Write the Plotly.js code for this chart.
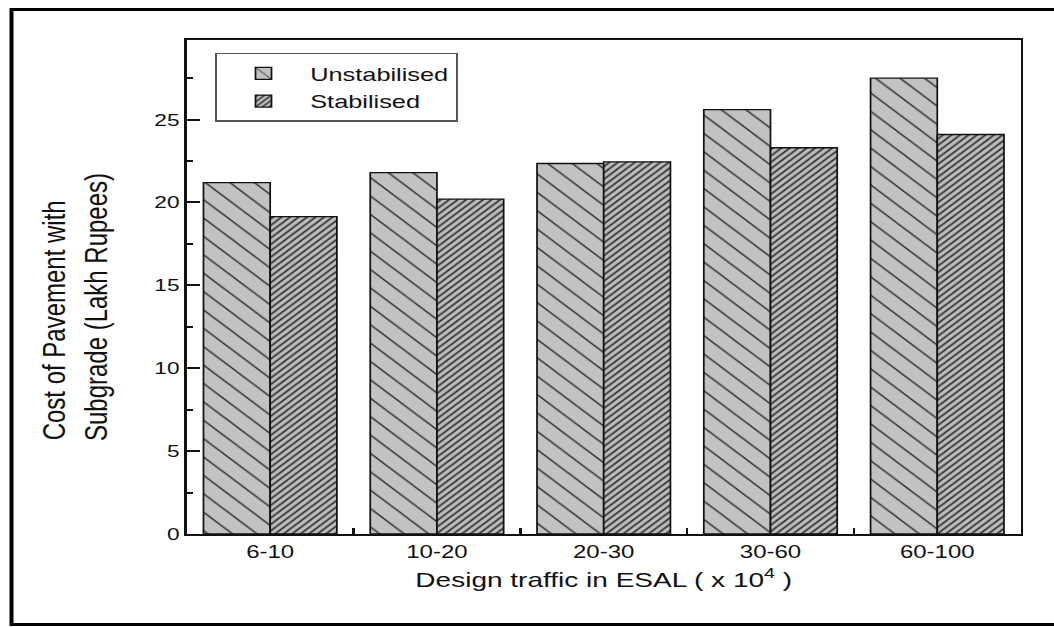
<!DOCTYPE html>
<html>
<head>
<meta charset="utf-8">
<script src="https://cdn.plot.ly/plotly-3.0.1.min.js"></script>
<style>
  html, body { margin: 0; padding: 0; background: #fff; overflow: hidden; }
  #wrap { width: 1054px; height: 627px; overflow: hidden; }
  #chart { width: 790px; height: 627px; transform: scaleX(1.3342); transform-origin: 0 0; }
</style>
</head>
<body>
<div id="wrap"><div id="chart"></div></div>
<script>
// ---- data ----
const categories = ['6-10', '10-20', '20-30', '30-60', '60-100'];
const unstabilised = [21.2, 21.8, 22.35, 25.6, 27.5];
const stabilised = [19.15, 20.2, 22.45, 23.3, 24.1];
const seriesNames = ['Unstabilised', 'Stabilised'];
const yTicks = [0, 5, 10, 15, 20, 25];

const FONT = 'Liberation Sans, Arial, Helvetica, sans-serif';
const NB = '\u00a0';
const ZW = '\u200b';

const traces = [
  {
    type: 'bar', name: seriesNames[0], x: categories, y: unstabilised,
    marker: {
      color: '#c2c2c2',
      line: { color: '#111', width: 1.3 },
      pattern: { shape: '\\', bgcolor: '#c2c2c2', fgcolor: '#333', size: 13, solidity: 0.1, fillmode: 'replace' }
    }
  },
  {
    type: 'bar', name: seriesNames[1], x: categories, y: stabilised,
    marker: {
      color: '#bdbdbd',
      line: { color: '#111', width: 1.3 },
      pattern: { shape: '/', bgcolor: '#bdbdbd', fgcolor: '#3a3a3a', size: 4.5, solidity: 0.38, fillmode: 'replace' }
    }
  }
];

const layout = {
  width: 790, height: 627,
  margin: { l: 140, r: 25, t: 40, b: 93, autoexpand: false },
  paper_bgcolor: '#fff', plot_bgcolor: '#fff',
  font: { family: FONT, color: '#111' },
  barmode: 'group', bargap: 0.2, bargroupgap: 0,
  showlegend: true,
  legend: {
    x: 0.0336, y: 0.9737, xanchor: 'left', yanchor: 'top',
    bgcolor: '#fff', bordercolor: '#555', borderwidth: 1.5,
    font: { family: FONT, size: 19, color: '#111' },
    itemwidth: 60, traceorder: 'normal'
  },
  xaxis: {
    type: 'category',
    range: [-0.5, 4.5],
    showline: true, linecolor: '#111', linewidth: 2, mirror: true,
    ticks: 'inside', tickson: 'boundaries', ticklen: 6, tickwidth: 2, tickcolor: '#111',
    showgrid: false, zeroline: false,
    tickfont: { family: FONT, size: 18, color: '#111' },
    title: { text: 'Design traffic in ESAL ( x 10<sup>4</sup> )', font: { family: FONT, size: 21, color: '#111' }, standoff: 12 }
  },
  yaxis: {
    range: [0, 29.8],
    tickvals: yTicks, ticktext: yTicks.map(String),
    showline: true, linecolor: '#111', linewidth: 2, mirror: true,
    ticks: 'inside', ticklen: 10, tickwidth: 2, tickcolor: '#111',
    minor: { dtick: 2.5, ticks: 'inside', ticklen: 5, tickwidth: 2, tickcolor: '#111', showgrid: false },
    showgrid: false, zeroline: false,
    tickfont: { family: FONT, size: 17, color: '#111' },
    title: {
      text: 'Cost of Pavement with' + NB.repeat(10) + ZW + '<br>Subgrade (Lakh Rupees)' + NB.repeat(6) + ZW,
      font: { family: FONT, size: 24, color: '#111' }, standoff: 28
    }
  },
  shapes: [
    {
      type: 'rect', xref: 'paper', yref: 'paper',
      x0: -0.2102, x1: 1.056, y0: -0.1832, y1: 1.0617,
      line: { color: '#000', width: 3 }, fillcolor: 'rgba(0,0,0,0)', layer: 'above'
    }
  ]
};

Plotly.newPlot('chart', traces, layout, { displayModeBar: false, staticPlot: true });
</script>
</body>
</html>
